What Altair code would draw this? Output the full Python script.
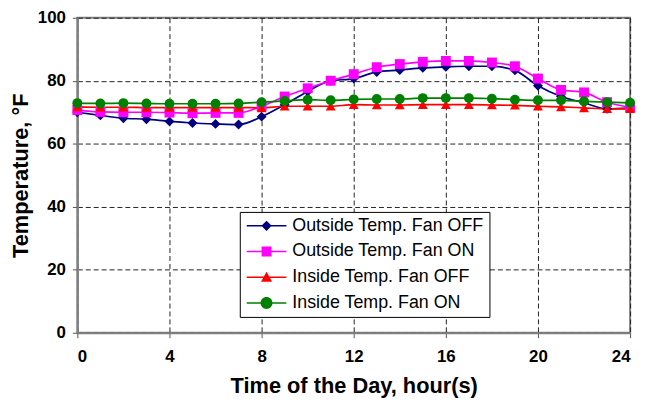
import altair as alt
import pandas as pd

hours = list(range(25))
series_names = ["Outside Temp. Fan OFF", "Outside Temp. Fan ON",
                "Inside Temp. Fan OFF", "Inside Temp. Fan ON"]
outside_off = [70.0, 69.0, 68.1, 67.8, 67.1, 66.6, 66.3, 66.1, 68.6, 72.4, 76.6, 80.0, 80.7,
               82.8, 83.4, 84.1, 84.4, 84.6, 84.6, 83.3, 78.4, 75.0, 73.0, 71.1, 71.4]
outside_on = [70.7, 70.1, 70.0, 70.0, 69.9, 69.7, 69.8, 69.8, 71.9, 75.0, 77.6, 80.0, 82.1,
              84.3, 85.3, 86.0, 86.3, 86.3, 85.8, 84.6, 80.7, 77.1, 76.3, 73.2, 71.6]
inside_off = [71.7, 71.6, 71.6, 71.5, 71.5, 71.5, 71.5, 71.5, 71.4, 71.9, 71.9, 71.9, 72.4,
              72.3, 72.3, 72.4, 72.4, 72.4, 72.3, 72.2, 71.9, 71.7, 71.4, 71.1, 71.1]
inside_on = [72.9, 72.8, 72.9, 72.8, 72.7, 72.7, 72.7, 72.8, 73.2, 73.6, 74.0, 73.8, 74.1,
             74.2, 74.2, 74.5, 74.5, 74.5, 74.3, 74.0, 73.8, 73.8, 73.5, 73.2, 73.0]
x_ticks = [0, 4, 8, 12, 16, 20, 24]
y_ticks = [0, 20, 40, 60, 80, 100]

colors = ["#000080", "#FF00FF", "#FF0000", "#008000"]
shapes = ["diamond", "square", "triangle-up", "circle"]
sizes = [100, 100, 100, 150]

# legend symbols: a short filled line (40px) with the series marker on it.
# Nominal symbol box is 14px (size 196 -> 1 unit = 7px); the path is shifted right
# so that it starts at the left edge of the entry.
SYM = 14
U = SYM / 2.0
def px(v):
    return round(v / U, 4)
L0, L1, MC, LH = -U, 40 - U, 20 - U, 0.8
LINE = f"M{px(L0)},{px(-LH)}H{px(L1)}V{px(LH)}H{px(L0)}Z"
def diamond(h):
    return f"M{px(MC - h)},0L{px(MC)},{px(-h)}L{px(MC + h)},0L{px(MC)},{px(h)}Z"
def square(h):
    return f"M{px(MC - h)},{px(-h)}H{px(MC + h)}V{px(h)}H{px(MC - h)}Z"
def triangle(h):
    return f"M{px(MC)},{px(-h)}L{px(MC + h)},{px(h * 0.8)}H{px(MC - h)}Z"
def circle(r):
    return (f"M{px(MC - r)},0A{px(r)},{px(r)},0,1,1,{px(MC + r)},0"
            f"A{px(r)},{px(r)},0,1,1,{px(MC - r)},0Z")
legend_paths = [LINE + diamond(5.2), LINE + square(5), LINE + triangle(5.6), LINE + circle(6)]

rows = []
for i, (name, vals) in enumerate(zip(series_names, [outside_off, outside_on, inside_off, inside_on])):
    for h, v in zip(hours, vals):
        rows.append({"hour": h, "temp": v, "series": name, "order": i})
df = pd.DataFrame(rows)

FONT = "Liberation Sans"

x_enc = alt.X("hour:Q", scale=alt.Scale(domain=[0, 24], nice=False),
              axis=alt.Axis(values=x_ticks, title="Time of the Day, hour(s)"))
y_enc = alt.Y("temp:Q", scale=alt.Scale(domain=[0, 100], nice=False),
              axis=alt.Axis(values=y_ticks, title="Temperature, °F"))
color_scale = alt.Scale(domain=series_names, range=colors)

lines = alt.Chart(df).mark_line(strokeWidth=1.7, interpolate="monotone").encode(
    x=x_enc, y=y_enc,
    color=alt.Color("series:N", scale=color_scale, legend=None),
    detail="series:N",
    order="hour:Q",
)

points = alt.Chart(df).mark_point(filled=True, opacity=1).encode(
    x=x_enc, y=y_enc,
    color=alt.Color("series:N", scale=color_scale, legend=None),
    shape=alt.Shape("series:N", scale=alt.Scale(domain=series_names, range=shapes), legend=None),
    size=alt.Size("series:N", scale=alt.Scale(domain=series_names, range=sizes), legend=None),
    order=alt.Order("order:Q"),
)

legend = alt.Legend(
    title=None, orient="none", legendX=164, legendY=196,
    symbolSize=SYM * SYM, symbolStrokeWidth=0, labelFont=FONT, labelFontSize=18,
    labelColor="black", labelLimit=400, strokeColor="black", fillColor="white",
    padding=5, rowPadding=8, labelOffset=40 - SYM + 4,
)

# draws no marks itself: it only carries the legend
legend_layer = alt.Chart(df).transform_filter("false").mark_point(filled=True, opacity=1).encode(
    x=x_enc, y=y_enc,
    color=alt.Color("series:N", scale=color_scale, legend=legend),
    shape=alt.Shape("series:N", scale=alt.Scale(domain=series_names, range=legend_paths), legend=legend),
)

chart = alt.layer(lines, points, legend_layer).resolve_scale(
    color="independent", shape="independent"
).properties(
    width=558, height=318,
    autosize=alt.AutoSizeParams(type="none"),
    padding={"left": 70, "top": 8, "right": 10, "bottom": 64},
).configure_view(
    stroke="#7f7f7f", strokeWidth=2
).configure_axis(
    labelFont=FONT, labelFontSize=17, labelFontWeight="bold", labelColor="black",
    titleFont=FONT, titleFontSize=22, titleFontWeight="bold", titleColor="black",
    grid=True, gridColor="#222222", gridDash=[5, 3], gridWidth=1, gridOpacity=1,
    domainColor="#7f7f7f", domainWidth=2, tickColor="#555555", tickSize=5,
).configure_axisX(
    labelPadding=11, titlePadding=11,
).configure_axisY(
    labelPadding=7, titlePadding=5,
)

chart.save("out.html", embed_options={"renderer": "svg", "actions": False})
